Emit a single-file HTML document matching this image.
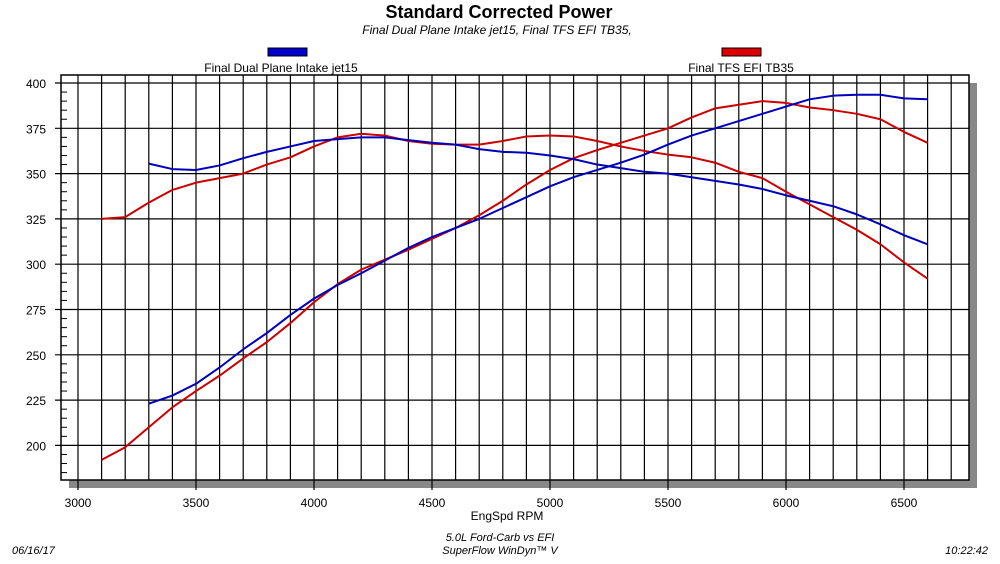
<!DOCTYPE html>
<html><head><meta charset="utf-8"><style>
body{margin:0;background:#fff;width:1000px;height:559px;overflow:hidden;font-family:"Liberation Sans",Arial,sans-serif}
svg text{font-family:"Liberation Sans",Arial,sans-serif}
</style></head><body>
<svg id="chart" width="1000" height="559" viewBox="0 0 1000 559">
<text x="499" y="18" font-size="18" font-weight="bold" text-anchor="middle">Standard Corrected Power</text>
<text x="497" y="34" font-size="12" font-style="italic" text-anchor="middle">Final Dual Plane Intake jet15, Final TFS EFI TB35,</text>
<rect x="268" y="48" width="39" height="8" fill="#0000cc" stroke="#000" stroke-width="1"/>
<text x="281" y="72" font-size="12" text-anchor="middle">Final Dual Plane Intake jet15</text>
<rect x="722" y="48" width="39" height="8" fill="#dd0000" stroke="#000" stroke-width="1"/>
<text x="741" y="72" font-size="12" text-anchor="middle">Final TFS EFI TB35</text>
<rect x="69" y="480" width="908" height="8" fill="#888"/>
<rect x="969" y="83" width="8" height="405" fill="#888"/>
<rect x="61" y="75" width="908" height="405" fill="#fff" stroke="#000" stroke-width="1.5"/>
<g id="grid"></g><g id="series"></g>
<text x="507" y="520" font-size="12" text-anchor="middle">EngSpd RPM</text>
<text x="500" y="541" font-size="11" font-style="italic" text-anchor="middle">5.0L Ford-Carb vs EFI</text>
<text x="500" y="554" font-size="11" font-style="italic" text-anchor="middle">SuperFlow WinDyn™ V</text>
<text x="12" y="554" font-size="11" font-style="italic">06/16/17</text>
<text x="988" y="554" font-size="11" font-style="italic" text-anchor="end">10:22:42</text>
</svg>
<script>
const xTicks=[3000,3500,4000,4500,5000,5500,6000,6500];
const yTicks=[200,225,250,275,300,325,350,375,400];
const blueRpm=[3300,3400,3500,3600,3700,3800,3900,4000,4100,4200,4300,4400,4500,4600,4700,4800,4900,5000,5100,5200,5300,5400,5500,5600,5700,5800,5900,6000,6100,6200,6300,6400,6500,6600];
const blueTorque=[355.5,352.5,352,354.5,358.5,362,365,368,369,370,370,368.5,367,366,363.5,362,361.5,360,358,355,353,351,350,348,346,344,341.5,338,335,332,327.5,322,316,311];
const bluePower=[223,227.5,234,243,253,262,272,281,288.5,295,302,309,315,320,325,331,337,343,348,352,356,360.5,366,371,375,379,383,387,391,393,393.5,393.5,391.5,391];
const redRpm=[3100,3200,3300,3400,3500,3600,3700,3800,3900,4000,4100,4200,4300,4400,4500,4600,4700,4800,4900,5000,5100,5200,5300,5400,5500,5600,5700,5800,5900,6000,6100,6200,6300,6400,6500,6600];
const redTorque=[325,326,334,341,345,347.5,350,355,359,365,370,372,371,368,366.5,366,366,368,370.5,371,370.5,368,365,362.5,360.5,359,356,351,347.5,340,333,326,319,311,301,292];
const redPower=[192,199,210,221,230,238.5,248,257,267.5,279,289,297,302.5,308,314,320,327,335,344,352,358.5,363,367,371,375,381,386,388,390,389,386.5,385,383,380,373,367];
const X=r=>78+(r-3000)*0.236;
const Y=v=>83+(400-v)*45.3/25;
const NS='http://www.w3.org/2000/svg';
const grid=document.getElementById('grid'),series=document.getElementById('series');
function mk(t,a,p){const e=document.createElementNS(NS,t);for(const k in a)e.setAttribute(k,a[k]);p.appendChild(e);return e;}
for(let r=3000;r<=6700;r+=100){
 const l=mk('line',{x1:X(r),x2:X(r),y1:75,y2:480,stroke:'#000','stroke-width':1.2},grid);
 
 
}
xTicks.forEach(r=>{
 const l=mk('line',{x1:X(r),x2:X(r),y1:480,y2:490,stroke:'#000','stroke-width':1.2},grid);
 
 
 const t=mk('text',{x:X(r),y:507,'font-size':12,'text-anchor':'middle'},grid);t.textContent=r;
 
 
});
for(let v=185;v<=400;v+=5){
 if(v%25===0)continue;
 const l=mk('line',{x1:61,x2:67,y1:Y(v),y2:Y(v),stroke:'#000','stroke-width':1},grid);
 
 
}
yTicks.forEach(v=>{
 const l=mk('line',{x1:55,x2:969,y1:Y(v),y2:Y(v),stroke:'#000','stroke-width':1.2},grid);
 
 
 const t=mk('text',{x:46,y:Y(v)+5,'font-size':12,'text-anchor':'end'},grid);t.textContent=v;
 
 
});
function line(xs,ys,c,name){
 const p=mk('polyline',{points:xs.map((r,i)=>X(r)+','+Y(ys[i])).join(' '),fill:'none',stroke:c,'stroke-width':2,'stroke-linejoin':'round'},series);
 
 
}
line(redRpm,redTorque,'#cc0000','red-torque-line');
line(redRpm,redPower,'#cc0000','red-power-line');
line(blueRpm,blueTorque,'#0000bb','blue-torque-line');
line(blueRpm,bluePower,'#0000bb','blue-power-line');
</script>
</body></html>
